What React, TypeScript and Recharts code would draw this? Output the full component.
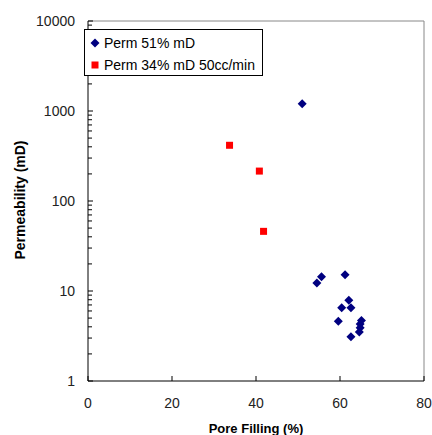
import { ScatterChart, Scatter, XAxis, YAxis, ReferenceLine } from 'recharts'

// Perm 51% mD
const bluePoreFilling = [51, 55.6, 54.5, 61.2, 62.1, 60.4, 62.6, 59.6, 65.1, 64.8, 64.8, 64.6, 62.6]
const bluePerm = [1200, 14.4, 12.3, 15.2, 7.9, 6.5, 6.5, 4.6, 4.7, 4.3, 3.9, 3.5, 3.1]

// Perm 34% mD 50cc/min
const redPoreFilling = [33.7, 40.8, 41.8]
const redPerm = [416, 215, 46]

const xTicks = [0, 20, 40, 60, 80]
const decades = [1, 10, 100, 1000, 10000]
const yTicks = decades.slice(0, 4).flatMap(d => [1, 2, 3, 4, 5, 6, 7, 8, 9].map(m => m * d)).concat([10000])

const blueData = bluePoreFilling.map((x, i) => ({ x, y: bluePerm[i] }))
const redData = redPoreFilling.map((x, i) => ({ x, y: redPerm[i] }))

const NAVY = '#000080'
const RED = '#ff0000'
const FONT = 'Liberation Sans, Arial, sans-serif'

const Diamond = (props: any) => {
  const { cx, cy } = props
  const r = 4.5
  return <polygon points={`${cx},${cy - r} ${cx + r},${cy} ${cx},${cy + r} ${cx - r},${cy}`} fill={NAVY} />
}

const Square = (props: any) => {
  const { cx, cy } = props
  return <rect x={cx - 3.5} y={cy - 3.5} width={7} height={7} fill={RED} />
}

const YTick = (props: any) => {
  const { x, y, payload } = props
  const major = decades.includes(payload.value)
  return (
    <g>
      <line x1={x} x2={x + (major ? 5 : 4)} y1={y} y2={y} stroke="#000" />
      {major && (
        <text x={x - 13} y={y} dy={5} textAnchor="end" fontSize={14} fill="#222" fontFamily={FONT}>
          {payload.value}
        </text>
      )}
    </g>
  )
}

const XTick = (props: any) => {
  const { x, y, payload } = props
  return (
    <g>
      <line x1={x} x2={x} y1={y} y2={y - 5} stroke="#000" />
      <text x={x} y={y + 27} textAnchor="middle" fontSize={14} fill="#222" fontFamily={FONT}>
        {payload.value}
      </text>
    </g>
  )
}

export default function App() {
  return (
    <div style={{ position: 'absolute', left: 0, top: 0, width: 432, height: 435, background: '#fff' }}>
      <ScatterChart width={432} height={435} margin={{ top: 21, right: 8, bottom: 0, left: 0 }}>
        <ReferenceLine y={10000} stroke="#888" />
        <ReferenceLine x={80} stroke="#888" />
        <XAxis
          type="number"
          dataKey="x"
          domain={[0, 80]}
          ticks={xTicks}
          tick={<XTick />}
          tickLine={false}
          tickSize={0}
          tickMargin={0}
          height={54}
          axisLine={{ stroke: '#000' }}
          label={{
            content: ({ viewBox }: any) => (
              <text
                x={viewBox.x + viewBox.width / 2}
                y={433}
                textAnchor="middle"
                fontSize={13}
                fontWeight="bold"
                fontFamily={FONT}
                fill="#000"
              >
                Pore Filling (%)
              </text>
            ),
          }}
        />
        <YAxis
          type="number"
          dataKey="y"
          scale="log"
          domain={[1, 10000]}
          ticks={yTicks}
          interval={0}
          tick={<YTick />}
          tickLine={false}
          tickSize={0}
          tickMargin={0}
          width={88}
          axisLine={{ stroke: '#000' }}
          label={{
            content: () => (
              <text
                x={25}
                y={200}
                transform="rotate(-90 25 200)"
                textAnchor="middle"
                fontSize={14}
                fontWeight="bold"
                fontFamily={FONT}
                fill="#000"
              >
                Permeability (mD)
              </text>
            ),
          }}
        />
        <Scatter name="Perm 51% mD" data={blueData} shape={<Diamond />} isAnimationActive={false} />
        <Scatter name="Perm 34% mD 50cc/min" data={redData} shape={<Square />} isAnimationActive={false} />
      </ScatterChart>
      <div
        style={{
          position: 'absolute',
          left: 84,
          top: 29,
          width: 177,
          height: 45,
          border: '1px solid #000',
          background: '#fff',
          fontFamily: FONT,
          fontSize: 14,
          color: '#000',
        }}
      >
        <div style={{ position: 'absolute', left: 5, top: 5, display: 'flex', alignItems: 'center', whiteSpace: 'nowrap' }}>
          <svg width={10} height={10} style={{ marginRight: 4 }}>
            <polygon points="5,0.5 9.5,5 5,9.5 0.5,5" fill={NAVY} />
          </svg>
          Perm 51% mD
        </div>
        <div style={{ position: 'absolute', left: 5, top: 27, display: 'flex', alignItems: 'center', whiteSpace: 'nowrap' }}>
          <svg width={10} height={10} style={{ marginRight: 4 }}>
            <rect x={1.5} y={1.5} width={7} height={7} fill={RED} />
          </svg>
          Perm 34% mD 50cc/min
        </div>
      </div>
    </div>
  )
}
